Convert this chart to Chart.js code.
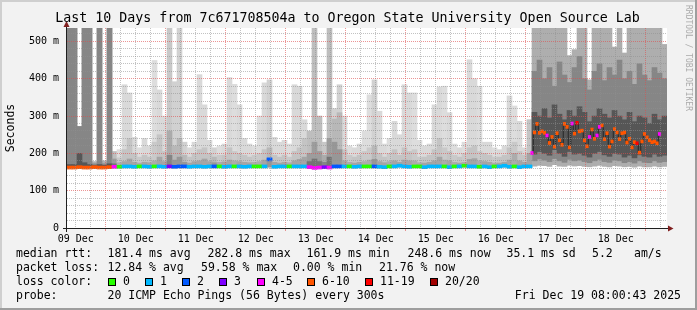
<!DOCTYPE html>
<html>
<head>
<meta charset="utf-8">
<script src="https://cdn.jsdelivr.net/npm/chart.js@4.4.0/dist/chart.umd.min.js"></script>
<style>
  html, body { margin: 0; padding: 0; background: #f2f2f2; }
  canvas { display: block; }
</style>
</head>
<body>
<canvas id="grafica" width="697" height="310"></canvas>
<script>
// eje de tiempo: horas desde el 09 Dec 00:00, celdas de 2 horas
const firstHour = 8.5;
const lastHour = 248.5;
const binHours = 2;

const dayLabels = ['09 Dec', '10 Dec', '11 Dec', '12 Dec', '13 Dec', '14 Dec', '15 Dec', '16 Dec', '17 Dec', '18 Dec'];
const yTickLabels = ['0', '100 m', '200 m', '300 m', '400 m', '500 m'];

const lossLabels = ['0', '1', '2', '3', '4-5', '6-10', '11-19', '20/20'];
const lossColors = ['#26ff00', '#00b8ff', '#0059ff', '#7e00ff', '#ff00ff', '#ff5500', '#ff0000', '#a10000'];

// perdida por celda (indice en lossLabels)
const loss = [
  5,5,5,5,5,5,5,5,5,4,
  0,1,1,1,0,1,1,0,1,1,
  3,2,2,2,1,1,1,1,1,2,
  0,1,1,0,1,1,1,0,0,1,
  2,1,1,1,0,1,1,1,4,4,
  4,3,4,2,2,1,0,1,1,0,
  0,2,1,1,0,1,1,1,1,0,
  0,1,1,1,1,0,1,0,1,0,
  1,1,0,1,1,0,1,1,1,0,
  1,1,1,5,5,5,5,5,5,5,
  5,5,5,5,5,5,5,5,5,5,
  5,5,5,5,5,5,5,5,5,5
];

// mediana (ms) por celda de 2h; las ultimas van en recentMedian
const median = [
  162,162,163,162,162,163,162,162,163,164,
  164,165,165,164,165,165,164,165,165,164,
  165,164,165,165,164,165,165,164,165,165,
  165,164,165,165,165,164,165,165,165,165,
  184,164,165,165,165,165,165,165,163,161,
  162,163,162,165,165,165,165,164,165,165,
  165,165,164,163,165,165,167,165,164,165,
  165,163,165,165,165,165,163,165,165,167,
  165,165,164,165,163,165,165,167,164,165,
  163,165,165,null,null,null,null,null,null,null,
  null,null,null,null,null,null,null,null,null,null,
  null,null,null,null,null,null,null,null,null,null
];

// humo: ping minimo, p10, p25, p75, p90, maximo (ms)
const smokeMin = [
  160,160,160,160,160,160,160,160,160,161,
  161,161,161,161,161,161,161,161,161,161,
  161,161,161,161,161,161,161,161,161,161,
  161,161,161,161,161,161,161,161,161,161,
  161,161,161,161,161,161,161,161,160,159,
  159,160,159,161,161,161,161,161,161,161,
  161,161,161,161,161,161,161,161,161,161,
  161,161,161,161,161,161,161,161,161,161,
  161,161,161,161,161,161,161,161,161,161,
  161,161,161,166,168,167,165,170,166,165,
  168,166,167,165,164,166,168,165,164,167,
  166,164,165,163,166,164,164,166,164,165
];
const smokeLow = [
  161,161,161,161,161,161,161,161,161,163,
  163,163,163,163,163,163,163,163,163,163,
  163,163,163,163,163,163,163,163,163,163,
  163,163,163,163,163,163,163,163,163,163,
  163,163,163,163,163,163,163,163,161,160,
  160,161,160,163,163,163,163,163,163,163,
  163,163,163,163,163,163,163,163,163,163,
  163,163,163,163,163,163,163,163,163,163,
  163,163,163,163,163,163,163,163,163,163,
  163,163,163,180,185,182,178,186,180,176,
  184,180,182,178,175,180,184,178,176,182,
  180,175,178,174,180,176,175,180,176,178
];
const smokeQ1 = [
  162,162,163,162,162,162,162,162,163,163,
  164,164,164,164,164,164,164,164,164,164,
  164,164,164,164,164,164,164,164,164,164,
  164,164,164,164,164,164,164,164,164,164,
  164,164,164,164,164,164,164,164,162,162,
  162,162,162,164,164,164,164,164,164,164,
  164,164,164,164,164,164,164,164,164,164,
  164,164,164,164,164,164,164,164,164,164,
  164,164,164,164,164,164,164,164,164,164,
  164,164,164,198,205,200,195,210,200,192,
  205,198,200,195,190,200,205,196,192,200,
  198,190,195,188,196,192,190,198,192,195
];
const smokeQ3 = [
  170,170,200,175,170,168,170,168,172,172,
  175,178,185,176,174,176,175,180,190,178,
  195,182,190,176,174,178,180,185,178,175,
  176,177,182,180,178,176,175,176,178,182,
  186,176,174,176,175,180,184,190,178,185,
  178,176,190,230,210,180,176,174,176,178,
  182,184,178,175,178,180,176,182,180,180,
  175,174,176,180,190,182,180,176,174,176,
  184,186,180,178,176,174,174,176,182,200,
  180,176,200,310,300,320,295,330,305,290,
  315,300,325,310,285,300,320,305,295,315,
  300,290,310,285,300,295,280,305,290,300
];
const smokeHigh = [
  536,536,272,536,536,172,536,172,536,185,
  188,210,240,200,190,195,190,230,250,205,
  260,220,240,195,190,200,210,215,200,190,
  195,195,215,205,200,195,190,195,200,210,
  215,195,190,195,190,205,215,240,200,230,
  205,195,240,292,309,210,195,190,195,205,
  215,220,200,190,200,210,195,215,205,210,
  190,190,195,210,240,215,205,195,190,200,
  215,220,205,200,195,190,190,195,215,230,
  205,195,290,420,450,400,430,380,445,410,
  390,430,460,400,370,420,440,395,430,410,
  450,400,420,385,440,410,395,430,415,400
];
const smokeMax = [
  536,536,272,536,536,178,536,180,536,205,
  210,384,362,243,215,240,220,449,370,300,
  536,392,536,230,215,230,411,330,235,215,
  220,225,403,385,330,240,225,220,300,389,
  397,243,230,235,225,384,380,290,260,536,
  300,230,536,320,384,300,220,215,225,260,
  357,397,313,225,240,286,250,384,362,362,
  235,220,225,330,378,380,309,225,215,230,
  451,400,380,230,230,215,210,220,354,327,
  286,215,290,536,536,536,536,536,536,536,
  462,478,536,536,397,536,536,536,536,485,
  536,469,536,536,536,536,536,536,536,492
];

// ultimos dias: mediana por hora
const recentStart = 194;
const recentMedian = [
  201,256,279,255,259,255,248,228,244,218,
  254,235,223,279,271,216,280,253,282,259,
  261,235,219,244,264,239,248,271,275,238,
  254,218,232,265,256,238,254,256,229,239,
  216,230,227,202,232,252,243,235,230,232,
  227,252
];
const recentLoss = [
  4,5,5,5,5,5,4,5,5,5,
  5,5,5,5,5,5,4,5,6,5,
  5,5,5,4,5,5,4,4,5,5,
  5,5,5,5,5,5,5,5,5,5,
  5,5,6,5,5,5,5,5,5,5,
  5,4
];

const rttStats = ['181.4 ms avg', '282.8 ms max', '161.9 ms min', '248.6 ms now', '35.1 ms sd', '5.2', 'am/s'];
const lossStats = ['12.84 % avg', '59.58 % max', '0.00 % min', '21.76 % now'];
const probeText = '20 ICMP Echo Pings (56 Bytes) every 300s';
const stampText = 'Fri Dec 19 08:00:43 2025';
const titleText = 'Last 10 Days from 7c671708504a to Oregon State University Open Source Lab';

const mono = "'DejaVu Sans Mono', monospace";
const gridMenor = 'rgba(143,143,143,0.55)';
const gridMayor = 'rgba(222,79,79,0.6)';

function centro(i) {
  return firstHour + binHours * i + binHours / 2;
}

// tonos del humo: capa 0 exterior, 1 media, 2 interior; mas oscuro con mas perdida
const tonoSinPerdida = [221, 201, 172];
const tonoConPerdida = [174, 134, 86];
const pesoPerdida = [0, 0.08, 0.25, 0.45, 0.65, 1, 1, 1];
function gris(capa, perdida) {
  const t = pesoPerdida[perdida];
  const v = Math.round(tonoSinPerdida[capa] * (1 - t) + tonoConPerdida[capa] * t);
  return `rgb(${v},${v},${v})`;
}

function capa(lo, hi, n, orden) {
  return {
    type: 'bar',
    data: lo.map((v, i) => ({x: centro(i), y: [v, hi[i]]})),
    backgroundColor: ctx => gris(n, loss[ctx.dataIndex]),
    order: orden
  };
}

const puntosMediana = [];
const coloresMediana = [];
median.forEach((m, i) => {
  if (m === null) return;
  puntosMediana.push({x: centro(i), y: [m - 4, m + 4]});
  coloresMediana.push(lossColors[loss[i]]);
});

const puntosRecientes = recentMedian.map((m, k) => ({x: recentStart + k + 0.5, y: [m - 4, m + 4]}));
const coloresRecientes = recentLoss.map(l => lossColors[l]);
const lineaReciente = recentMedian.map((m, k) => ({x: recentStart + k + 0.5, y: m}));

const horas6 = [];
for (let h = 12; h < lastHour; h += 6) horas6.push(h);
const pasosY = [];
for (let v = 0; v <= 520; v += 20) pasosY.push(v);

const marco = {
  id: 'marco',
  beforeDraw(chart) {
    const {ctx, width, height, chartArea: a} = chart;
    ctx.save();
    ctx.fillStyle = '#f2f2f2';
    ctx.fillRect(0, 0, width, height);
    ctx.fillStyle = '#cfcfcf';
    ctx.fillRect(0, 0, width, 2);
    ctx.fillRect(0, 0, 2, height);
    ctx.fillStyle = '#9e9e9e';
    ctx.fillRect(0, height - 2, width, 2);
    ctx.fillRect(width - 2, 0, 2, height);
    ctx.fillStyle = '#ffffff';
    ctx.fillRect(a.left, a.top, a.right - a.left, a.bottom - a.top);
    ctx.restore();
  },
  afterDraw(chart) {
    const {ctx, chartArea: a} = chart;
    ctx.save();
    // ejes con flechas
    ctx.strokeStyle = '#1f1f1f';
    ctx.lineWidth = 1;
    ctx.beginPath();
    ctx.moveTo(a.left - 4, a.bottom + 0.5);
    ctx.lineTo(a.right + 1, a.bottom + 0.5);
    ctx.moveTo(a.left - 0.5, a.bottom + 4);
    ctx.lineTo(a.left - 0.5, a.top - 2);
    ctx.stroke();
    ctx.fillStyle = '#801f1f';
    ctx.beginPath();
    ctx.moveTo(a.right + 1, a.bottom - 2.5);
    ctx.lineTo(a.right + 6.5, a.bottom + 0.5);
    ctx.lineTo(a.right + 1, a.bottom + 3.5);
    ctx.fill();
    ctx.beginPath();
    ctx.moveTo(a.left - 3.5, a.top - 1);
    ctx.lineTo(a.left - 0.5, a.top - 7);
    ctx.lineTo(a.left + 2.5, a.top - 1);
    ctx.fill();

    // titulo
    ctx.fillStyle = '#000';
    ctx.textBaseline = 'middle';
    ctx.textAlign = 'center';
    ctx.font = '13.3px ' + mono;
    ctx.fillText(titleText, 347.5, 19);

    // leyenda
    ctx.textAlign = 'left';
    ctx.font = '11.5px ' + mono;
    ctx.fillText('median rtt:', 16, 254);
    [107.5, 207.5, 306.5, 407.5, 506.5, 592, 634].forEach((x, i) => ctx.fillText(rttStats[i], x, 254));
    ctx.fillText('packet loss:', 16, 268);
    [107.5, 201, 293, 379].forEach((x, i) => ctx.fillText(lossStats[i], x, 268));
    ctx.fillText('loss color:', 16, 282);
    [108, 145, 182, 219, 257, 307, 365, 430].forEach((x, i) => {
      ctx.fillStyle = '#000';
      ctx.fillRect(x, 278, 8, 8);
      ctx.fillStyle = lossColors[i];
      ctx.fillRect(x + 1, 279, 6, 6);
      ctx.fillStyle = '#000';
      ctx.fillText(lossLabels[i], x + 15, 282);
    });
    ctx.fillText('probe:', 16, 296);
    ctx.fillText(probeText, 107.5, 296);
    ctx.textAlign = 'right';
    ctx.fillText(stampText, 681, 296);

    // marca de agua vertical
    ctx.translate(688, 5);
    ctx.rotate(Math.PI / 2);
    ctx.textAlign = 'left';
    ctx.font = '8px ' + mono;
    ctx.fillStyle = '#ababab';
    ctx.fillText('RRDTOOL / TOBI OETIKER', 0, 0);
    ctx.restore();
  }
};

Chart.defaults.font.family = mono;

new Chart(document.getElementById('grafica'), {
  type: 'bar',
  data: {
    datasets: [
      capa(smokeMin, smokeMax, 0, 7),
      capa(smokeLow, smokeHigh, 1, 6),
      capa(smokeQ1, smokeQ3, 2, 5),
      {
        type: 'line',
        data: lineaReciente,
        xAxisID: 'x2',
        stepped: 'middle',
        borderColor: '#262626',
        borderWidth: 1,
        pointRadius: 0,
        fill: false,
        order: 4
      },
      {type: 'bar', data: puntosMediana, backgroundColor: coloresMediana, order: 3},
      {type: 'bar', data: puntosRecientes, backgroundColor: coloresRecientes, xAxisID: 'x2', order: 2}
    ]
  },
  options: {
    responsive: false,
    animation: false,
    devicePixelRatio: 1,
    layout: {padding: {left: 0, top: 28, right: 30, bottom: 62}},
    plugins: {legend: {display: false}, tooltip: {enabled: false}, title: {display: false}},
    datasets: {bar: {grouped: false, barPercentage: 1, categoryPercentage: 1, borderWidth: 0}},
    scales: {
      x: {
        type: 'linear',
        min: firstHour,
        max: lastHour,
        offset: false,
        afterFit: s => { s.height = 20; },
        afterBuildTicks: s => { s.ticks = horas6.map(v => ({value: v})); },
        grid: {
          offset: false,
          z: 1,
          color: c => (c.tick && c.tick.value % 24 === 0) ? gridMayor : gridMenor,
          drawTicks: true,
          tickLength: 3,
          tickBorderDash: [],
          tickColor: c => (c.tick && c.tick.value % 24 === 0) ? gridMayor : 'rgba(0,0,0,0)'
        },
        border: {display: false, dash: [1, 1]},
        ticks: {
          autoSkip: false,
          maxRotation: 0,
          minRotation: 0,
          padding: 2,
          color: '#000',
          font: {size: 10, family: mono},
          callback: v => (v % 24 === 12) ? dayLabels[(v - 12) / 24] : ''
        }
      },
      x2: {type: 'linear', display: false, min: firstHour, max: lastHour, offset: false},
      y: {
        min: 0,
        max: 536,
        afterFit: s => { s.width = 67; },
        afterBuildTicks: s => { s.ticks = pasosY.map(v => ({value: v})); },
        grid: {
          z: 1,
          color: c => (c.tick && c.tick.value % 100 === 0) ? gridMayor : gridMenor,
          drawTicks: false
        },
        border: {display: false, dash: [1, 1]},
        ticks: {
          autoSkip: false,
          padding: 8,
          color: '#000',
          font: {size: 10, family: mono},
          callback: v => (v % 100 === 0) ? yTickLabels[v / 100] : ''
        },
        title: {
          display: true,
          text: 'Seconds',
          color: '#000',
          font: {size: 11.5, family: mono},
          padding: {top: 4, bottom: 0}
        }
      }
    }
  },
  plugins: [marco]
});
</script>
</body>
</html>
